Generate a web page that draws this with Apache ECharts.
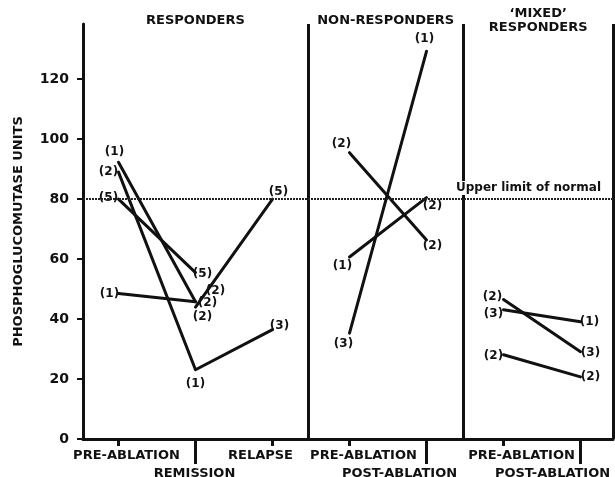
<!DOCTYPE html>
<html>
<head>
<meta charset="utf-8">
<script src="https://cdn.jsdelivr.net/npm/echarts@6/dist/echarts.min.js"></script>
<style>
  html, body { margin: 0; padding: 0; background: #fff; }
  #chart { width: 615px; height: 477px; }
</style>
</head>
<body>
<div id="chart"></div>
<script>
// ---- data ----
// stage names along the x axis (index = position on the axis)
const stageNames = ['PRE-ABLATION', 'REMISSION', 'RELAPSE',
                    'PRE-ABLATION', 'POST-ABLATION',
                    'PRE-ABLATION', 'POST-ABLATION'];
const groupNames = ['RESPONDERS', 'NON-RESPONDERS', '\u2018MIXED\u2019\nRESPONDERS'];
const yTicks = [0, 20, 40, 60, 80, 100, 120];
const upperLimit = 80;
const upperLimitText = 'Upper limit of normal';
const yName = 'PHOSPHOGLUCOMUTASE UNITS';

// responders: pre-ablation -> remission (-> relapse)
const respStages = [[0, 1], [0, 1, 2], [0, 1], [0, 1], [1, 2]];
const respValues = [[92.3, 45.8], [89, 23.1, 36.5], [80, 55.5], [48.5, 45.8], [44, 80]];
const respCounts = [['(1)', '(2)'], ['(2)', '(1)', '(3)'], ['(5)', '(5)'], ['(1)', '(2)'], ['(2)', '(5)']];

// non-responders: pre-ablation -> post-ablation
const nonStages = [[3, 4], [3, 4], [3, 4]];
const nonValues = [[35.3, 129.3], [60.7, 80.5], [95.5, 66.4]];
const nonCounts = [['(3)', '(1)'], ['(1)', '(2)'], ['(2)', '(2)']];

// 'mixed' responders: pre-ablation -> post-ablation
const mixStages = [[5, 6], [5, 6], [5, 6]];
const mixValues = [[46.5, 29.1], [43.1, 39.1], [28.1, 20.7]];
const mixCounts = [['(2)', '(3)'], ['(3)', '(1)'], ['(2)', '(2)']];

// ---- layout ----
const FONT = 'DejaVu Sans';
const INK = '#111';
const X_MIN = -0.461, X_MAX = 6.422;
const panelEdges = [2.46, 4.48, X_MAX];
const panelStarts = [X_MIN, 2.46, 4.48];

// pixel offsets of each count label from its point
const respOffsets = [[[-4, -10], [12, 1]], [[-10, 0], [0, 14], [7, -4]], [[-10, -1], [7, 1]], [[-9, 0], [7, 15]], [[20, -16], [6, -7]]];
const nonOffsets = [[[-6, 11], [-2, -12]], [[-7, 9], [6, 8]], [[-8, -9], [6, 6]]];
const mixOffsets = [[[-11, -3], [10, 1]], [[-10, 4], [9, 0]], [[-10, 1], [10, 0]]];

// stage label placement: [dx from tick, row]
const stageLabelPlace = [[8, 0], [-1, 1], [-12, 0], [14, 0], [-27, 1], [18, 0], [-28, 1]];

function buildLines(stages, values, counts, offsets) {
  return stages.map((st, i) => ({
    type: 'line',
    xAxisIndex: 0,
    yAxisIndex: 0,
    symbol: 'circle',
    symbolSize: 1,
    showSymbol: true,
    silent: true,
    lineStyle: { color: INK, width: 3, join: 'round', cap: 'round' },
    itemStyle: { color: INK },
    emphasis: { disabled: true },
    z: 3,
    data: st.map((s, j) => ({
      value: [s, values[i][j]],
      label: {
        show: true,
        formatter: counts[i][j],
        position: 'inside',
        offset: offsets[i][j],
        align: 'center',
        verticalAlign: 'middle',
        color: INK,
        fontFamily: FONT,
        fontWeight: 'bold',
        fontSize: 12
      }
    }))
  }));
}

const series = [].concat(
  buildLines(respStages, respValues, respCounts, respOffsets),
  buildLines(nonStages, nonValues, nonCounts, nonOffsets),
  buildLines(mixStages, mixValues, mixCounts, mixOffsets)
);

// panel dividers and the upper limit of normal
series.push({
  type: 'line',
  xAxisIndex: 0,
  yAxisIndex: 0,
  data: [],
  silent: true,
  markLine: {
    silent: true,
    symbol: 'none',
    animation: false,
    label: { show: false },
    data: panelEdges.map(v => ({ xAxis: v, lineStyle: { color: INK, width: 3, type: 'solid' } }))
      .concat([{ yAxis: upperLimit, lineStyle: { color: '#222', width: 2, type: [2, 1] } }])
  }
});

const chart = echarts.init(document.getElementById('chart'), null, { renderer: 'canvas' });

const axisBase = {
  type: 'value',
  min: X_MIN,
  max: X_MAX,
  position: 'bottom',
  splitLine: { show: false },
  axisLabel: { show: false }
};

chart.setOption({
  animation: false,
  backgroundColor: '#fff',
  grid: { left: 83, right: 2, top: 24, bottom: 38 },
  xAxis: [
    Object.assign({}, axisBase, {
      axisLine: { show: true, onZero: false, lineStyle: { color: INK, width: 3 } },
      axisTick: { show: true, customValues: [0, 2, 3, 5], length: 7, lineStyle: { color: INK, width: 3 } }
    }),
    Object.assign({}, axisBase, {
      axisLine: { show: false, onZero: false },
      axisTick: { show: true, customValues: [1, 4, 6], length: 25, lineStyle: { color: INK, width: 3 } }
    })
  ],
  yAxis: {
    type: 'value',
    min: 0,
    max: 138.4,
    splitLine: { show: false },
    axisLine: { show: true, onZero: false, lineStyle: { color: INK, width: 3 } },
    axisTick: { show: true, customValues: yTicks, length: 6, lineStyle: { color: INK, width: 2 } },
    axisLabel: {
      customValues: yTicks,
      margin: 14,
      color: INK,
      fontFamily: FONT,
      fontWeight: 'bold',
      fontSize: 14
    },
    name: yName,
    nameLocation: 'middle',
    nameGap: 58,
    nameTextStyle: { color: INK, fontFamily: FONT, fontWeight: 'bold', fontSize: 13 }
  },
  series: series
});

// text placed from the axis scales: stage names, group titles, limit note
function px(x, y) { return chart.convertToPixel({ xAxisIndex: 0, yAxisIndex: 0 }, [x, y]); }

const graphics = [];
const axisY = px(0, 0)[1];
stageNames.forEach((name, i) => {
  const p = px(i, 0);
  const place = stageLabelPlace[i];
  graphics.push({
    type: 'text',
    x: p[0] + place[0],
    y: axisY + (place[1] === 0 ? 17 : 35),
    z: 50,
    style: {
      text: name,
      align: 'center',
      verticalAlign: 'middle',
      fill: INK,
      font: 'bold 13px "' + FONT + '"'
    }
  });
});

groupNames.forEach((name, i) => {
  const a = px(panelStarts[i], 0)[0];
  const b = px(panelEdges[i], 0)[0];
  graphics.push({
    type: 'text',
    x: (a + b) / 2,
    y: 20.5,
    z: 50,
    style: {
      text: name,
      align: 'center',
      verticalAlign: 'middle',
      lineHeight: 14,
      fill: INK,
      font: 'bold 13px "' + FONT + '"'
    }
  });
});

const lim = px(X_MAX, upperLimit);
graphics.push({
  type: 'text',
  x: lim[0] - 9,
  y: lim[1] - 11,
  z: 60,
  style: {
    text: upperLimitText,
    align: 'right',
    verticalAlign: 'middle',
    fill: INK,
    backgroundColor: '#fff',
    padding: [1, 3, 1, 3],
    font: 'bold 12px "' + FONT + '"'
  }
});

chart.setOption({ graphic: graphics });
</script>
</body>
</html>
